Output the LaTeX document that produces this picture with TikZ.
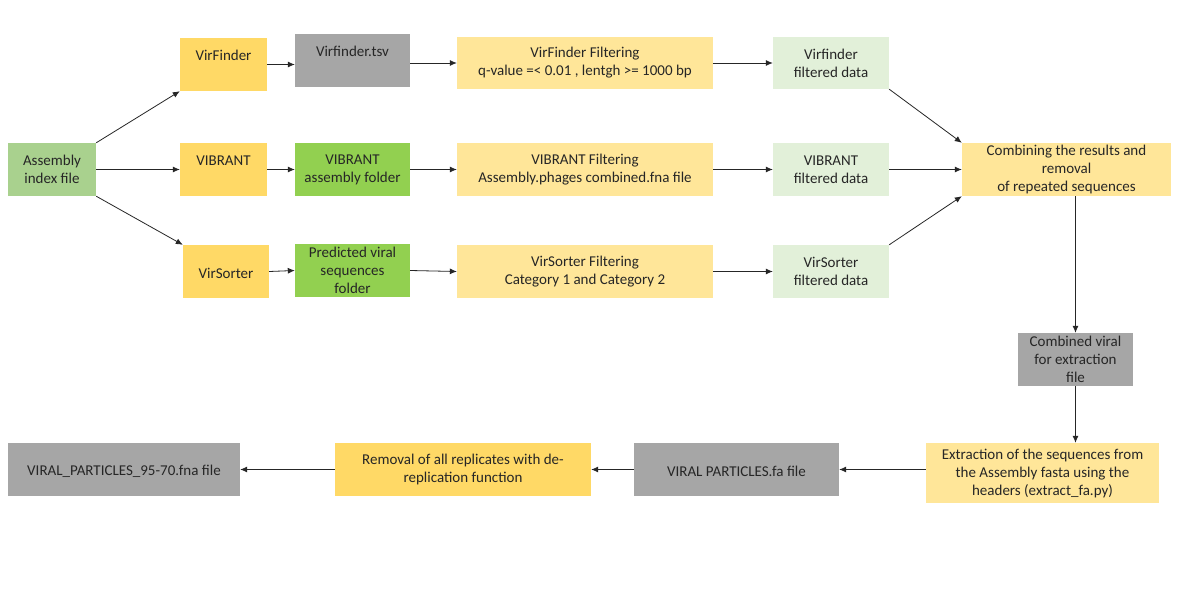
\documentclass[tikz,border=0pt]{standalone}
\usepackage{fontspec}
\setmainfont{Carlito}
\usetikzlibrary{arrows.meta}
\definecolor{asmgreen}{HTML}{A9D18E}
\definecolor{toolyel}{HTML}{FFD966}
\definecolor{filegray}{HTML}{A6A6A6}
\definecolor{foldgreen}{HTML}{92D050}
\definecolor{filtyel}{HTML}{FFE699}
\definecolor{datagreen}{HTML}{E2F0D9}
\definecolor{txt}{HTML}{262626}
\begin{document}
\begin{tikzpicture}[x=1pt,y=-1pt,
  box/.style={inner sep=0pt, align=center, font=\fontsize{15}{18}\selectfont, text=txt,
    execute at begin node={\rule{0pt}{14.5pt}}},
  arr/.style={-{Latex[length=7pt,width=6pt]}, line width=0.8pt, draw=txt}]
\fill[white] (0,0) rectangle (1179,589);
\useasboundingbox (0,0) rectangle (1179,589);
% column 1
\node[box, fill=asmgreen, minimum width=88pt, minimum height=53pt] (asm) at (52,169.5) {Assembly\\index file};
% tools
\node[box, fill=toolyel, minimum width=87pt, minimum height=53pt] (vf) at (223.5,64.5) {VirFinder\\\mbox{}};
\node[box, fill=toolyel, minimum width=87pt, minimum height=53pt] (vb) at (223.5,169.5) {VIBRANT\\\mbox{}};
\node[box, fill=toolyel, minimum width=86pt, minimum height=53pt] (vs) at (226,271.5) {VirSorter};
% outputs
\node[box, fill=filegray, minimum width=115pt, minimum height=53pt] (tsv) at (352.5,60.5) {Virfinder.tsv\\\mbox{}};
\node[box, fill=foldgreen, minimum width=115pt, minimum height=53pt] (vbf) at (352.5,169.5) {VIBRANT\\assembly folder};
\node[box, fill=foldgreen, minimum width=115pt, minimum height=53pt] (pvs) at (352.5,270.5) {Predicted viral\\sequences\\folder};
% filtering
\node[box, fill=filtyel, minimum width=256pt, minimum height=52pt] (vff) at (585,63) {VirFinder Filtering\\q-value =< 0.01 , lentgh >= 1000 bp};
\node[box, fill=filtyel, minimum width=256pt, minimum height=53pt] (vbfl) at (585,169.5) {VIBRANT Filtering\\Assembly.phages combined.fna file};
\node[box, fill=filtyel, minimum width=256pt, minimum height=53pt] (vsfl) at (585,271.5) {VirSorter Filtering\\Category 1 and Category 2};
% filtered data
\node[box, fill=datagreen, minimum width=116pt, minimum height=52pt] (vfd) at (831,63) {Virfinder\\filtered data};
\node[box, fill=datagreen, minimum width=116pt, minimum height=53pt] (vbd) at (831,169.5) {VIBRANT\\filtered data};
\node[box, fill=datagreen, minimum width=116pt, minimum height=53pt] (vsd) at (831,271.5) {VirSorter\\filtered data};
% combining
\node[box, fill=filtyel, minimum width=209pt, minimum height=53pt] (comb) at (1066.5,169.5) {Combining the results and\\removal\\of repeated sequences};
\node[box, fill=filegray, minimum width=115pt, minimum height=53pt] (cv) at (1075.5,359.5) {Combined viral\\for extraction\\file};
\node[box, fill=filtyel, minimum width=233pt, minimum height=60pt] (ext) at (1042.5,473) {Extraction of the sequences from\\the Assembly fasta using the\\headers (extract\_fa.py)};
% bottom row
\node[box, fill=filegray, minimum width=205pt, minimum height=53pt] (vp) at (736.5,469.5) {VIRAL PARTICLES.fa file};
\node[box, fill=toolyel, minimum width=256pt, minimum height=53pt] (rem) at (463,469.5) {Removal of all replicates with de-\\replication function};
\node[box, fill=filegray, minimum width=232pt, minimum height=53pt] (vpf) at (124,469.5) {VIRAL\_PARTICLES\_95-70.fna file};
% connectors
\draw[arr] (asm.north east) -- (vf.south west);
\draw[arr] (asm.east) -- (vb.west);
\draw[arr] (asm.south east) -- (vs.north west);
\draw[arr] (vf.east) -- (tsv.west |- vf.east);
\draw[arr] (vb.east) -- (vbf.west);
\draw[arr] (vs.east) -- (pvs.west);
\draw[arr] (tsv.east |- vff.west) -- (vff.west);
\draw[arr] (vbf.east) -- (vbfl.west);
\draw[arr] (pvs.east) -- (vsfl.west);
\draw[arr] (vff.east) -- (vfd.west);
\draw[arr] (vbfl.east) -- (vbd.west);
\draw[arr] (vsfl.east) -- (vsd.west);
\draw[arr] (vfd.south east) -- (comb.north west);
\draw[arr] (vbd.east) -- (comb.west);
\draw[arr] (vsd.north east) -- (comb.south west);
\draw[arr] (cv.north |- comb.south) -- (cv.north);
\draw[arr] (cv.south) -- (cv.south |- ext.north);
\draw[arr] (ext.west |- vp.east) -- (vp.east);
\draw[arr] (vp.west) -- (rem.east);
\draw[arr] (rem.west) -- (vpf.east);
\end{tikzpicture}
\end{document}
